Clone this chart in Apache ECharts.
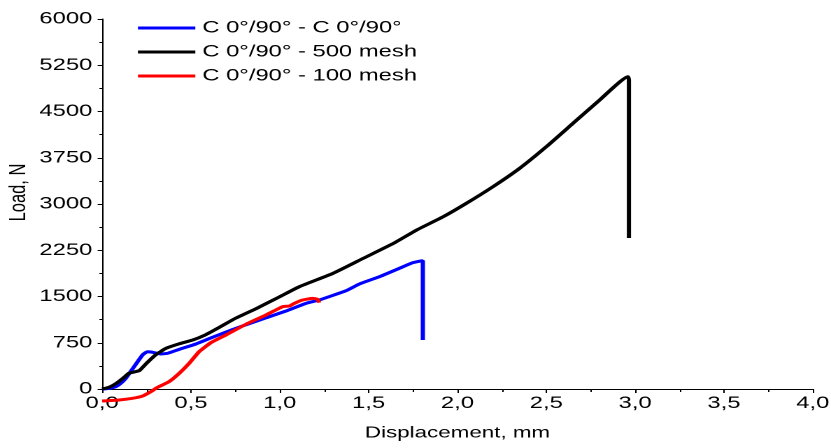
<!DOCTYPE html>
<html>
<head>
<meta charset="utf-8">
<script src="https://cdn.jsdelivr.net/npm/echarts@6/dist/echarts.min.js"></script>
<style>
  html, body { margin: 0; padding: 0; background: #fff; overflow: hidden; }
  #chart { width: 594px; height: 448px; transform: scaleX(1.399); transform-origin: 0 0; }
</style>
</head>
<body>
<div id="chart"></div>
<script>
// ---- Data ----
const seriesNames = ['C 0°/90° - C 0°/90°', 'C 0°/90° - 500 mesh', 'C 0°/90° - 100 mesh'];

const blueX = [0, 0.04, 0.077, 0.10, 0.133, 0.18, 0.227, 0.255, 0.275, 0.293, 0.33, 0.37, 0.434, 0.528, 0.621, 0.753, 0.903, 1.035, 1.147, 1.222, 1.373, 1.448, 1.561, 1.673, 1.748, 1.79, 1.805, 1.805];
const blueY = [0, 10, 38, 80, 173, 362, 551, 605, 600, 589, 568, 580, 643, 730, 838, 984, 1135, 1265, 1389, 1443, 1594, 1703, 1821, 1957, 2048, 2075, 2081, 795];

const blackX = [0, 0.04, 0.08, 0.12, 0.15, 0.18, 0.21, 0.25, 0.30, 0.36, 0.43, 0.51, 0.58, 0.66, 0.75, 0.87, 1.00, 1.11, 1.30, 1.47, 1.64, 1.77, 1.92, 2.05, 2.20, 2.35, 2.50, 2.65, 2.80, 2.959, 2.965, 2.965];
const blackY = [0, 30, 92, 180, 254, 275, 300, 417, 551, 660, 730, 795, 876, 1000, 1146, 1308, 1497, 1659, 1876, 2119, 2362, 2578, 2794, 3011, 3281, 3579, 3929, 4308, 4686, 5064, 5010, 2449];

const redX = [0, 0.096, 0.171, 0.227, 0.274, 0.312, 0.377, 0.434, 0.49, 0.546, 0.612, 0.697, 0.809, 0.922, 1.016, 1.054, 1.082, 1.128, 1.185, 1.213, 1.222];
const redY = [-195, -178, -151, -114, -43, 27, 119, 254, 416, 605, 751, 876, 1049, 1200, 1335, 1346, 1389, 1443, 1470, 1454, 1400];

const xTicks = { min: 0, max: 4, interval: 0.5 };
const yTicks = { min: 0, max: 6000, interval: 750 };

// ---- Build ----
function zip(xs, ys) { return xs.map((x, i) => [x, ys[i]]); }
const FONT = 'Liberation Sans, Arial, sans-serif';
const colors = ['#0000ff', '#000000', '#ff0000'];
const dataSets = [zip(blueX, blueY), zip(blackX, blackY), zip(redX, redY)];

const chart = echarts.init(document.getElementById('chart'), null, { renderer: 'canvas', devicePixelRatio: 2 });
chart.setOption({
  animation: false,
  backgroundColor: '#fff',
  textStyle: { fontFamily: FONT, color: '#000' },
  grid: { left: 73, top: 19, width: 508, height: 370, containLabel: false, outerBoundsMode: 'none' },
  legend: {
    orient: 'vertical',
    left: 98.6,
    top: 19.5,
    padding: 0,
    icon: 'rect',
    itemWidth: 41,
    itemHeight: 3,
    itemGap: 7,
    textStyle: { fontFamily: FONT, fontSize: 17, color: '#000' },
    data: seriesNames
  },
  xAxis: {
    type: 'value',
    min: xTicks.min, max: xTicks.max, interval: xTicks.interval,
    name: 'Displacement, mm',
    nameLocation: 'middle',
    nameGap: 36,
    nameMoveOverlap: false,
    nameTextStyle: { fontFamily: FONT, fontSize: 16, color: '#000' },
    axisLine: { show: true, onZero: false, lineStyle: { color: '#000', width: 1 } },
    axisTick: { show: true, inside: false, length: 4, lineStyle: { color: '#000' } },
    minorTick: { show: true, splitNumber: 2, length: 3, lineStyle: { color: '#000' } },
    splitLine: { show: false },
    axisLabel: {
      margin: 6, fontFamily: FONT, fontSize: 17, color: '#000',
      showMaxLabel: true, showMinLabel: true,
      formatter: v => v.toFixed(1).replace('.', ',')
    }
  },
  yAxis: {
    type: 'value',
    min: yTicks.min, max: yTicks.max, interval: yTicks.interval,
    name: 'Load, N',
    nameLocation: 'middle',
    nameGap: 51,
    nameMoveOverlap: false,
    nameTextStyle: { fontFamily: FONT, fontSize: 16.5, color: '#000', padding: [0, 0, 0, 23] },
    axisLine: { show: true, onZero: false, lineStyle: { color: '#000', width: 1 } },
    axisTick: { show: true, inside: false, length: 3.2, lineStyle: { color: '#000' } },
    minorTick: { show: true, splitNumber: 2, length: 2, lineStyle: { color: '#000' } },
    splitLine: { show: false },
    axisLabel: { margin: 7, fontFamily: FONT, fontSize: 17, color: '#000', formatter: v => String(v) }
  },
  series: seriesNames.map((name, i) => ({
    name: name,
    type: 'line',
    data: dataSets[i],
    symbol: 'none',
    showSymbol: false,
    clip: false,
    smooth: 0.15,
    color: colors[i],
    lineStyle: { color: colors[i], width: 3 },
    z: 2 + i
  }))
});
</script>
</body>
</html>
